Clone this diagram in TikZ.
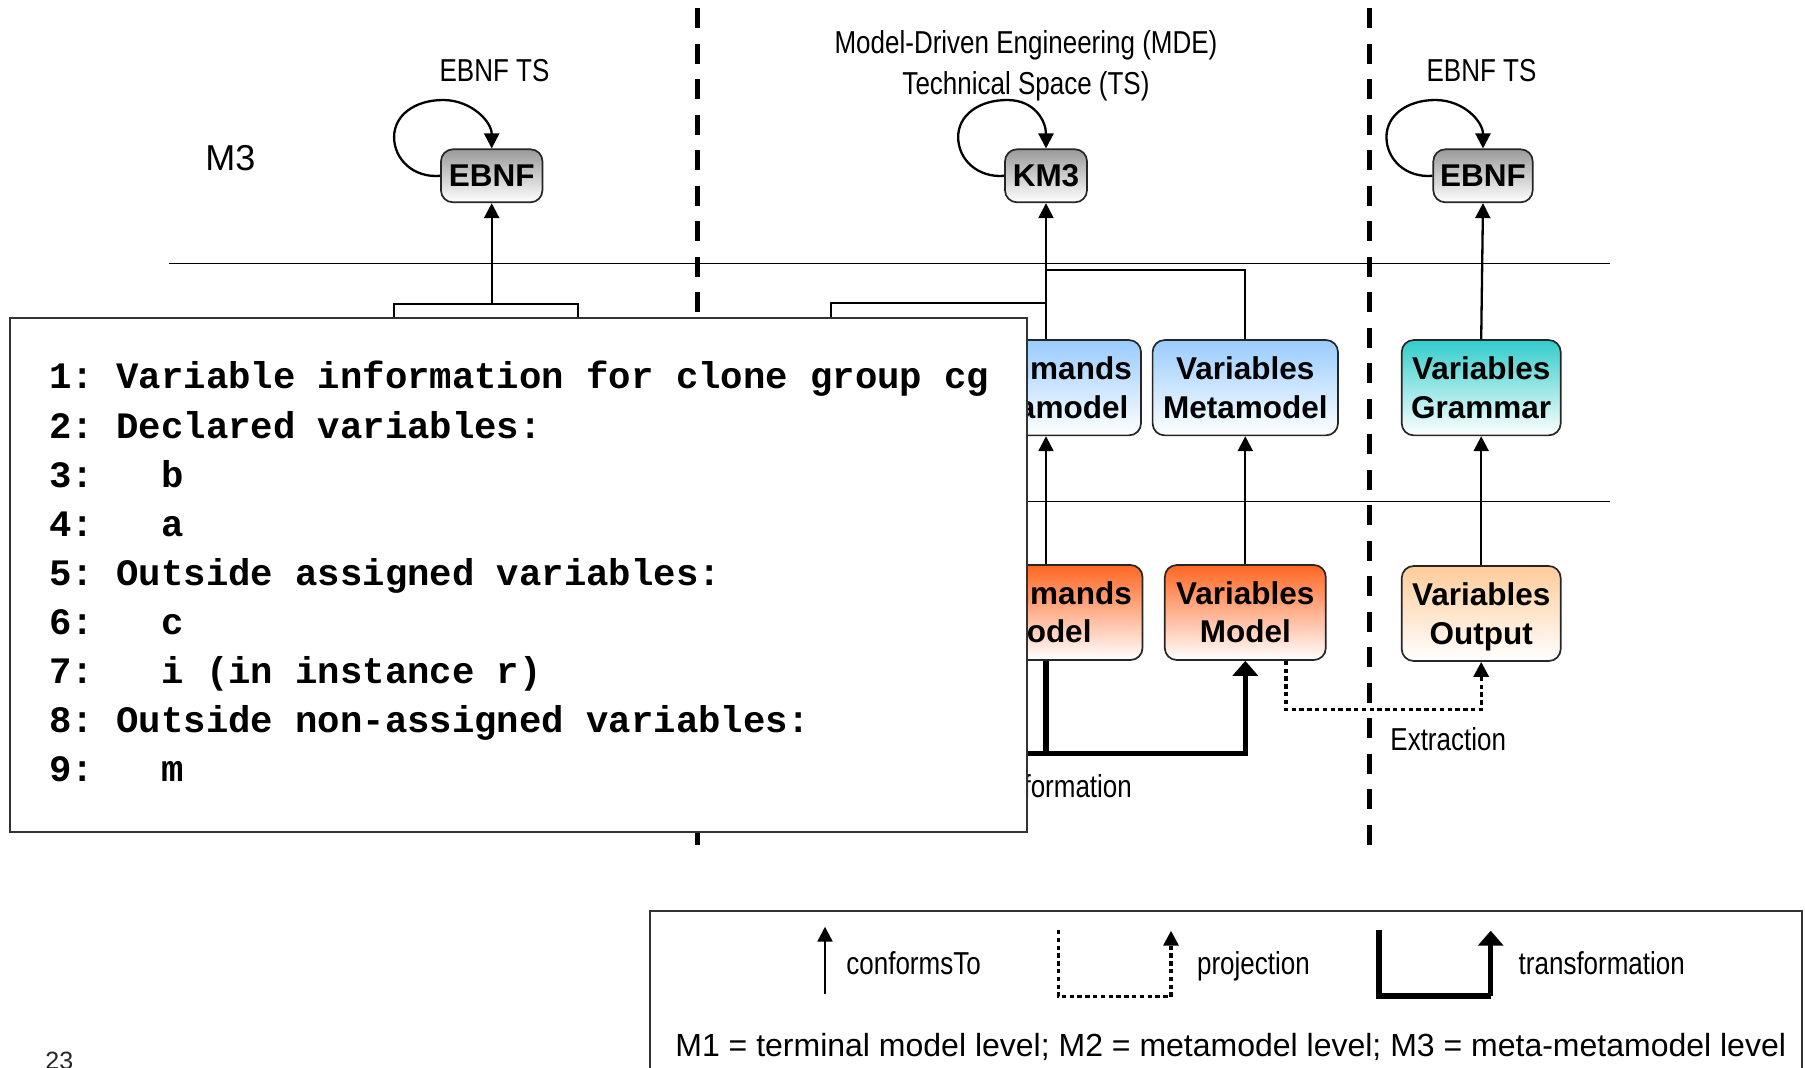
\documentclass[tikz,border=0pt]{standalone}
\usepackage{fontspec}
\setmainfont{Liberation Sans}
\newfontfamily\narrowfont[FakeStretch=0.82]{Liberation Sans}
\newfontfamily\codefont{Liberation Mono}
\usetikzlibrary{arrows.meta}
\definecolor{metablue}{HTML}{99CCFF}
\definecolor{gramteal}{HTML}{33CCCC}
\definecolor{modelred}{HTML}{FF6622}
\definecolor{outpeach}{HTML}{FFCC99}
\definecolor{mmgray}{HTML}{9A9A9A}
\newcommand{\selfloop}[1]{%
  \draw[conf] (#1.west) .. controls ([shift={(-26,2.2)}]#1.west) and ([shift={(-46,-15.8)}]#1.west) ..
    ([shift={(-46,-38.8)}]#1.west) .. controls ([shift={(-46,-60.8)}]#1.west) and ([shift={(-25,-75.8)}]#1.west) ..
    ([shift={(3,-75.8)}]#1.west) .. controls ([shift={(31,-75.8)}]#1.west) and ([shift={(0,-27)}]#1.north) .. (#1.north);}
\begin{document}
\begin{tikzpicture}[x=0.5pt,y=-0.5pt,
  conf/.style={line width=1.15pt, -{Triangle[width=7.5pt,length=7.5pt]}},
  plainline/.style={line width=1.15pt},
  trans/.style={line width=2.7pt},
  transarrow/.style={trans, -{Triangle[width=12.5pt,length=7.5pt]}},
  proj/.style={line width=1.6pt, dash pattern=on 2.2pt off 1.7pt, -{Triangle[width=7.5pt,length=7.5pt]}},
  projline/.style={line width=1.6pt, dash pattern=on 2.2pt off 1.7pt},
  lvl/.style={line width=0.75pt},
  tssep/.style={line width=2.2pt, dash pattern=on 10pt off 7.75pt},
  mbox/.style={draw=black!85, line width=0.85pt, rounded corners=6pt, align=center,
    inner sep=0pt, font=\fontsize{15.75}{19.15}\selectfont\bfseries},
  mmbox/.style={mbox, top color=mmgray, bottom color=white, minimum height=26.5pt},
  metabox/.style={mbox, top color=metablue, bottom color=white, minimum height=47.65pt},
  grambox/.style={mbox, top color=gramteal, bottom color=white, minimum height=47.65pt},
  modelbox/.style={mbox, top color=modelred, bottom color=white, minimum height=47.5pt},
  outbox/.style={mbox, top color=outpeach, bottom color=white, minimum height=47.5pt},
  narrowlabel/.style={font=\fontsize{15.85}{19.5}\narrowfont, inner sep=0pt},
  plainlabel/.style={font=\fontsize{16}{19}\selectfont, inner sep=0pt},
  codeline/.style={anchor=base west, inner sep=0pt, font=\fontsize{18.65}{22}\codefont\bfseries\frenchspacing},
  frame/.style={draw=black!80, line width=1pt, fill=white, inner sep=0pt, anchor=north west}
]
\useasboundingbox (0,0) rectangle (1805,1067);
\clip (0,0) rectangle (1805,1067);
\fill[white] (0,0) rectangle (1805,1067);

% technical space separators and level lines
\draw[tssep] (697.6,8.3) -- (697.6,849.6);
\draw[tssep] (1369.5,8.3) -- (1369.5,849.6);
\draw[lvl] (169,263.6) -- (1609.6,263.6);
\draw[lvl] (169,501.7) -- (1609.6,501.7);

% labels
\node[plainlabel, anchor=base west, font=\fontsize{18}{21}\selectfont] (m3) at (205,170.5) {M3};
\node[narrowlabel, anchor=base] (tsA) at (494.5,81.7) {EBNF TS};
\node[narrowlabel, anchor=base] (tsB) at (1481.5,81.7) {EBNF TS};
\node[narrowlabel, anchor=base] (tsM1) at (1026,53.4) {Model-Driven Engineering (MDE)};
\node[narrowlabel, anchor=base] (tsM2) at (1026,94.4) {Technical Space (TS)};

% M3 nodes
\node[mmbox, minimum width=50.75pt] (ebnfA) at (491.7,175.8) {EBNF};
\node[mmbox, minimum width=41pt] (km3) at (1046,175.8) {KM3};
\node[mmbox, minimum width=49.7pt] (ebnfB) at (1483,175.8) {EBNF};
\selfloop{ebnfA}
\selfloop{km3}
\selfloop{ebnfB}

% M2 nodes
\node[metabox, minimum width=95pt] (cmdmeta) at (1046,387.7) {Commands\\Metamodel};
\node[metabox, minimum width=92.7pt] (varmeta) at (1245.3,387.7) {Variables\\Metamodel};
\node[grambox, minimum width=79.5pt] (vargram) at (1481.2,387.7) {Variables\\Grammar};

% M1 nodes
\node[modelbox, minimum width=96.5pt] (cmdmodel) at (1046,612.5) {Commands\\Model};
\node[modelbox, minimum width=80.5pt] (varmodel) at (1245.3,612.5) {Variables\\Model};
\node[outbox, minimum width=79.5pt] (varout) at (1481.2,613.5) {Variables\\\smash{Output}};

% connectors (left technical space, partly hidden)
\coordinate (hl1) at (394,345);
\coordinate (hl2) at (578,345);
\coordinate (hj1) at (491.7,304);
\draw[plainline] (hl1) |- (hj1) -| (hl2);
\draw[conf] (hj1) -- (ebnfA.south);

% middle technical space
\coordinate (hm1) at (830.8,345);
\draw[plainline] (hm1) |- (km3.south |- 0,303);
\draw[plainline] (varmeta.north) |- (km3.south |- 0,270);
\draw[conf] (cmdmeta.north) -- (km3.south);
\draw[conf] (cmdmodel.north) -- (cmdmeta.south);
\draw[conf] (varmodel.north) -- (varmeta.south);

% right technical space
\draw[conf] (vargram.north) -- (ebnfB.south);
\draw[conf] (varout.north) -- (vargram.south);

% transformation
\coordinate (tsrc) at (960,753.3);
\draw[trans] (cmdmodel.south) -- (cmdmodel.south |- tsrc);
\draw[transarrow] (tsrc) -| (varmodel.south);
\node[narrowlabel, anchor=base east] (translbl) at (1132.3,797.3) {Transformation};

% extraction (projection)
\draw[proj] ([xshift=20.3pt]varmodel.south) -- ++(0,49) -| (varout.south);
\node[narrowlabel, anchor=base west] (extlbl) at (1390,750) {Extraction};

% code box overlay
\node[frame, minimum width=508.5pt, minimum height=257.1pt] (codebox) at (9,316.5) {};
\node[codeline] (c1) at (49,388.9) {1: Variable information for clone group cg};
\node[codeline] (c2) at (49,438.0) {2: Declared variables:};
\node[codeline] (c3) at (49,487.1) {3:~~~b};
\node[codeline] (c4) at (49,536.2) {4:~~~a};
\node[codeline] (c5) at (49,585.3) {5: Outside assigned variables:};
\node[codeline] (c6) at (49,634.4) {6:~~~c};
\node[codeline] (c7) at (49,683.5) {7:~~~i (in instance r)};
\node[codeline] (c8) at (49,732.6) {8: Outside non-assigned variables:};
\node[codeline] (c9) at (49,781.7) {9:~~~m};

% legend
\node[frame, minimum width=576pt, minimum height=100pt] (legend) at (649,910) {};
\coordinate (lcA) at (825,994);
\coordinate (lcB) at (825,926.7);
\draw[conf] (lcA) -- (lcB);
\node[narrowlabel, anchor=base west] (lconf) at (846,974) {conformsTo};
\coordinate (lpA) at (1058.3,930);
\coordinate (lpB) at (1171,996.7);
\coordinate (lpC) at (1171,930.7);
\draw[projline] (lpA) |- (lpB);
\draw[proj] (lpB) -- (lpC);
\node[narrowlabel, anchor=base west] (lproj) at (1196.7,974) {projection};
\coordinate (ltA) at (1379,930);
\coordinate (ltB) at (1490.7,996);
\coordinate (ltC) at (1490.7,930.7);
\draw[trans] (ltA) |- (ltB);
\draw[transarrow] (ltB) -- (ltC);
\node[narrowlabel, anchor=base west] (ltrans) at (1518.3,974) {transformation};
\node[plainlabel, anchor=base west] (lvls) at (675,1056) {M1 = terminal model level; M2 = metamodel level; M3 = meta-metamodel level};

% page number
\node[anchor=base west, inner sep=0pt, font=\fontsize{12.5}{14}\selectfont, text=black!85] (pg) at (45,1069.6) {23};
\end{tikzpicture}
\end{document}
